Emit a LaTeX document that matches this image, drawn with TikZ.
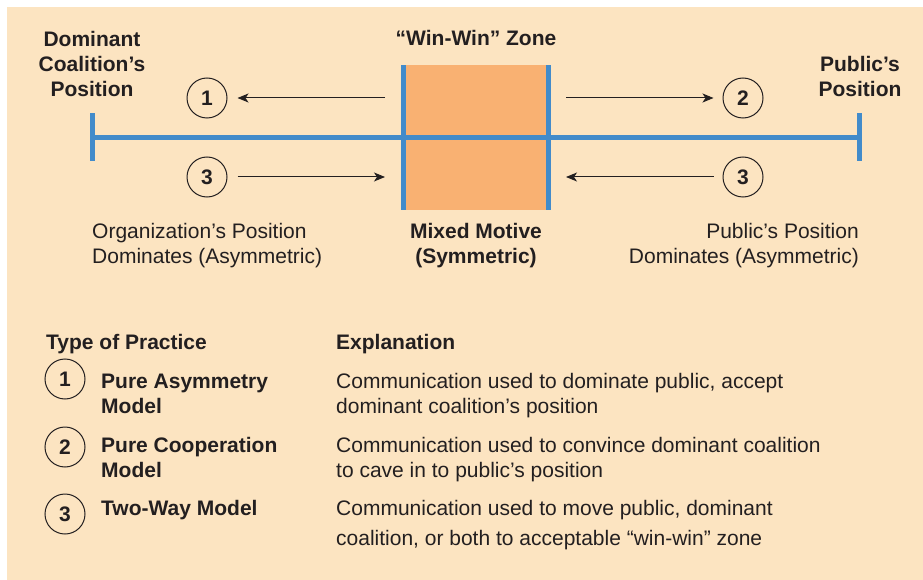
\documentclass[tikz,border=0pt]{standalone}
\usepackage{fontspec}
\setmainfont{Liberation Sans}
\usetikzlibrary{arrows.meta}
\begin{document}
\begin{tikzpicture}[x = 1pt, y = -1pt,
  txt/.style = {inner sep = 0, text = ink, font = \fontsize{21}{25}\selectfont},
  bold/.style = {txt, font = \fontsize{21}{25}\selectfont\bfseries},
  num/.style = {circle, draw = ink, line width = 1, minimum size = 40, inner sep = 0, text = ink, font = \fontsize{21}{25}\selectfont\bfseries},
  arr/.style = {draw = ink, line width = 1, -{Stealth[length = 11pt, width = 9pt, inset = 3pt]}},
  axis/.style = {draw = bar, line width = 5}]
\definecolor{bg}{RGB}{252,228,193}
\definecolor{zone}{RGB}{249,177,114}
\definecolor{bar}{RGB}{66,139,202}
\definecolor{ink}{RGB}{35,31,32}
\pgfmathsetmacro\axisy{137.5};
\pgfmathsetmacro\tick{24};
\useasboundingbox (0,0) rectangle (923,580);
\fill [bg] (7,7) rectangle (923,580);
\node [fill = zone, minimum width = 144, minimum height = 144, inner sep = 0] (zone) at (476,\axisy) {};
\coordinate (left) at (92,\axisy);
\coordinate (right) at (859,\axisy);
\draw [axis] (left) -- (right);
\foreach \p in {left,right} \draw [axis] ([yshift = \tick]\p) -- ([yshift = -\tick]\p);
\draw [axis] (zone.north west) -- (zone.south west);
\draw [axis] (zone.north east) -- (zone.south east);
\node [bold, align = center, anchor = base] (dom) at (92,97) {Dominant\\Coalition’s\\Position};
\node [bold, anchor = base] (win) at (476,46) {“Win-Win” Zone};
\node [bold, align = center, anchor = base] (pub) at (860,97) {Public’s\\Position};
\node [num] (c1) at (207,98) {1};
\node [num] (c3l) at (207,177) {3};
\node [num] (c2) at (743,98) {2};
\node [num] (c3r) at (743,177) {3};
\coordinate (a1) at (385,98);
\coordinate (a3l) at (385,177);
\coordinate (a2) at (566,98);
\coordinate (a3r) at (566,177);
\draw [arr, shorten >= 10] (a1) -- (c1);
\draw [arr, shorten <= 10] (c3l) -- (a3l);
\draw [arr, shorten >= 9] (a2) -- (c2);
\draw [arr, shorten <= 9] (c3r) -- (a3r);
\node [txt, align = left, anchor = base west] (org) at (92,263) {Organization’s Position\\Dominates (Asymmetric)};
\node [bold, align = center, anchor = base] (mix) at (476,263) {Mixed Motive\\(Symmetric)};
\node [txt, align = right, anchor = base east] (pubdom) at (859,263) {Public’s Position\\Dominates (Asymmetric)};
\node [bold, anchor = base west] (type) at (46,349) {Type of Practice};
\node [bold, anchor = base west] (expl) at (336,349) {Explanation};
\foreach \n/\cy/\y/\model in {1/379/413/{Pure Asymmetry\\Model}, 2/447/477/{Pure Cooperation\\Model}, 3/514/515/{Two-Way Model}} {
  \node [num] (t\n) at (65,\cy) {\n};
  \node [bold, align = left, anchor = base west] (m\n) at (101,\y) {\model};
}
\node [txt, align = left, anchor = base west] (e1) at (336,413) {Communication used to dominate public, accept\\dominant coalition’s position};
\node [txt, align = left, anchor = base west] (e2) at (336,477) {Communication used to convince dominant coalition\\to cave in to public’s position};
\node [txt, align = left, anchor = base west] (e3) at (336,545) {Communication used to move public, dominant\\[5pt]coalition, or both to acceptable “win-win” zone};
\end{tikzpicture}
\end{document}
